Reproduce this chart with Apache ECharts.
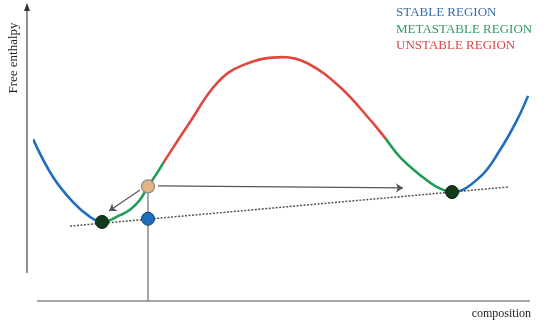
<!DOCTYPE html>
<html>
<head>
<meta charset="utf-8">
<script src="https://cdn.jsdelivr.net/npm/echarts@6/dist/echarts.min.js"></script>
<style>
  html, body { margin: 0; padding: 0; background: #ffffff; }
  #chart { width: 547px; height: 322px; }
</style>
</head>
<body>
<div id="chart"></div>
<script>
// Free enthalpy vs. composition, split into stability regions
const blueLeft   = [[0.6, 54.7], [4.6, 41.9], [8.6, 33.4], [12.0, 28.4], [14.4, 26.7]];
const greenLeft  = [[14.4, 26.7], [18.0, 29.0], [20.0, 30.8], [22.0, 34.2], [23.6, 38.7], [25.4, 43.2], [26.8, 47.0]];
const redMiddle  = [[26.8, 47.0], [32.0, 60.5], [37.4, 73.6], [42.6, 79.7], [50.6, 82.4], [55.4, 80.4], [62.0, 72.3], [68.6, 60.1], [71.0, 55.1]];
const greenRight = [[71.0, 55.1], [74.0, 48.6], [78.0, 42.6], [81.4, 38.5], [84.4, 36.8]];
const blueRight  = [[84.4, 36.8], [90.0, 41.9], [94.0, 51.0], [97.4, 61.1], [99.6, 69.3]];

const tangentLine  = [[8.0, 25.3], [95.6, 38.5]];
const equilibrium  = [[14.4, 26.7], [84.4, 36.8]];
const initialState = [[23.6, 38.7]];
const mixState     = [[23.6, 27.8]];
const dropLine     = [[23.6, 38.7], [23.6, 0]];
const decayArrow   = [[22.0, 37.5], [15.8, 30.4]];
const shiftArrow   = [[25.6, 38.9], [74.6, 38.2]];

const legendLabels = ['STABLE REGION', 'METASTABLE REGION', 'UNSTABLE REGION'];
const yAxisName = 'Free enthalpy';
const xAxisName = 'composition';

const BLUE = '#1f6dbf', GREEN = '#1c9e55', RED = '#e0483f';
const legendColors = ['#3a6db3', '#2f9a62', '#d9474c'];
const SERIF = '"Liberation Serif", "DejaVu Serif", serif';

// one continuous curve; each region gets its colour from the visualMap
const segments = [
  { pts: blueLeft, color: BLUE },
  { pts: greenLeft, color: GREEN },
  { pts: redMiddle, color: RED },
  { pts: greenRight, color: GREEN },
  { pts: blueRight, color: BLUE }
];
const fullCurve = [];
const pieces = [];
segments.forEach(function (s, i) {
  s.pts.forEach(function (p, j) { if (i === 0 || j > 0) fullCurve.push(p); });
  pieces.push({ gte: s.pts[0][0], lt: s.pts[s.pts.length - 1][0] + (i === segments.length - 1 ? 1 : 0), color: s.color });
});

function arrow(pair) {
  return {
    type: 'line', data: [], silent: true,
    markLine: {
      silent: true, symbol: ['none', 'arrow'], symbolSize: 7,
      label: { show: false },
      lineStyle: { color: '#555', width: 1.2, type: 'solid' },
      data: [[{ coord: pair[0] }, { coord: pair[1] }]]
    }
  };
}

const chart = echarts.init(document.getElementById('chart'));
chart.setOption({
  animation: false,
  backgroundColor: '#ffffff',
  grid: { left: 30, right: 17, top: 5, bottom: 21 },
  xAxis: { type: 'value', min: 0, max: 100, show: false },
  yAxis: { type: 'value', min: 0, max: 100, show: false },
  visualMap: {
    type: 'piecewise', show: false, dimension: 0, seriesIndex: 4,
    pieces: pieces
  },
  graphic: [
    // vertical axis with arrow head
    { type: 'line', shape: { x1: 27, y1: 8, x2: 27, y2: 273 }, style: { stroke: '#555', lineWidth: 1.3 } },
    { type: 'polygon', shape: { points: [[27, 3], [24, 11], [30, 11]] }, style: { fill: '#333' } },
    // horizontal axis
    { type: 'line', shape: { x1: 37, y1: 301, x2: 530, y2: 301 }, style: { stroke: '#a5a5a5', lineWidth: 2 } },
    { type: 'text', x: 14, y: 58, rotation: Math.PI / 2, style: { text: yAxisName, font: '13px ' + SERIF, fill: '#222', align: 'center', verticalAlign: 'middle' } },
    { type: 'text', x: 531, y: 314, style: { text: xAxisName, font: '12px ' + SERIF, fill: '#222', align: 'right', verticalAlign: 'middle' } },
    { type: 'text', x: 396, y: 13, style: { text: legendLabels[0], font: '13px ' + SERIF, fill: legendColors[0], verticalAlign: 'middle' } },
    { type: 'text', x: 396, y: 30, style: { text: legendLabels[1], font: '13px ' + SERIF, fill: legendColors[1], verticalAlign: 'middle' } },
    { type: 'text', x: 396, y: 46, style: { text: legendLabels[2], font: '13px ' + SERIF, fill: legendColors[2], verticalAlign: 'middle' } }
  ],
  series: [
    {
      type: 'line', data: tangentLine, symbol: 'none', silent: true,
      lineStyle: { color: '#555', width: 1.5, type: [2, 1.5] }, z: 1
    },
    {
      type: 'line', data: dropLine, symbol: 'none', silent: true,
      lineStyle: { color: '#8a8a8a', width: 1.5 }, z: 1
    },
    arrow(decayArrow),
    arrow(shiftArrow),
    {
      type: 'line', data: fullCurve, smooth: 0.4, symbol: 'none', silent: true,
      lineStyle: { width: 2.6 }, z: 3
    },
    {
      type: 'scatter', data: equilibrium, symbolSize: 13, silent: true, z: 5,
      itemStyle: { color: '#123a1c', borderColor: '#0b2410', borderWidth: 1, opacity: 1 }
    },
    {
      type: 'scatter', data: initialState, symbolSize: 13, silent: true, z: 5,
      itemStyle: { color: '#e2b483', borderColor: '#8a8a8a', borderWidth: 1.2, opacity: 1 }
    },
    {
      type: 'scatter', data: mixState, symbolSize: 13, silent: true, z: 5,
      itemStyle: { color: '#1f6dbf', borderColor: '#16406e', borderWidth: 1, opacity: 1 }
    }
  ]
});
</script>
</body>
</html>
